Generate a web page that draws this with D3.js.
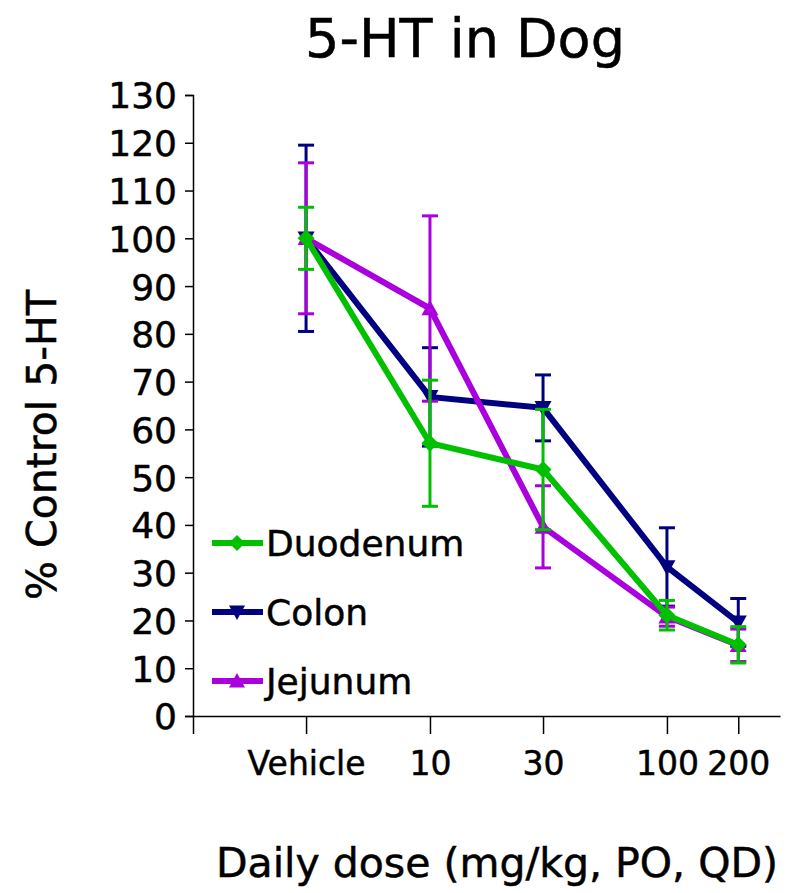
<!DOCTYPE html>
<html>
<head>
<meta charset="utf-8">
<script src="https://cdn.jsdelivr.net/npm/d3@7"></script>
<style>
  body { margin: 0; background: #fff; }
  text { font-family: "DejaVu Sans", sans-serif; fill: #000; stroke: #000; stroke-width: 0.5px; }
</style>
</head>
<body>
<div id="chart"></div>
<script>
// data
const doses = [3, 10, 30, 100, 200];
const doseLabels = ["Vehicle", "10", "30", "100", "200"];
const yTicks = [0, 10, 20, 30, 40, 50, 60, 70, 80, 90, 100, 110, 120, 130];

const duodenum = [100, 57.1, 51.6, 21.1, 14.9];
const duodenumErr = [6.5, 13.2, 12.6, 3.1, 3.8];
const colon = [100, 66.8, 64.5, 31.2, 19.6];
const colonErr = [19.5, 10.3, 6.9, 8.2, 5.0];
const jejunum = [100, 85.3, 39.6, 20.8, 14.8];
const jejunumErr = [15.8, 19.4, 8.6, 2.0, 3.4];

const series = [
  { name: "Colon", values: colon, err: colonErr, color: "#000080", symbol: "down" },
  { name: "Jejunum", values: jejunum, err: jejunumErr, color: "#aa00dd", symbol: "up" },
  { name: "Duodenum", values: duodenum, err: duodenumErr, color: "#00c000", symbol: "diamond" }
];

const W = 799, H = 893;
const svg = d3.select("#chart").append("svg")
  .attr("width", W).attr("height", H);

const x = d3.scaleLog().domain([1, 300]).range([193, 780]);
const y = d3.scaleLinear().domain([0, 130]).range([716, 95]);

// title
svg.append("text")
  .attr("x", 465).attr("y", 57)
  .attr("text-anchor", "middle")
  .style("font-size", "54px")
  .text("5-HT in Dog");

// y axis
const yAxis = d3.axisLeft(y).tickValues(yTicks).tickSize(8).tickPadding(8);
const gy = svg.append("g").attr("transform", "translate(193,0)").call(yAxis);
gy.selectAll("text").style("font-size", "36px").attr("dy", "0.36em");
gy.selectAll("line, path").attr("stroke", "#000").attr("stroke-width", 1.5);

// x axis
const xAxis = d3.axisBottom(x)
  .tickValues([1].concat(doses))
  .tickFormat(d => { const i = doses.indexOf(d); return i < 0 ? "" : doseLabels[i]; })
  .tickSize(18).tickSizeOuter(0).tickPadding(18);
const gx = svg.append("g").attr("transform", "translate(0,716)").call(xAxis);
gx.selectAll("text").style("font-size", "33px");
gx.selectAll("line, path").attr("stroke", "#000").attr("stroke-width", 1.5);

// axis titles
svg.append("text")
  .attr("x", 497).attr("y", 877)
  .attr("text-anchor", "middle")
  .style("font-size", "41px")
  .text("Daily dose (mg/kg, PO, QD)");

svg.append("text")
  .attr("transform", "translate(56,445) rotate(-90)")
  .attr("text-anchor", "middle")
  .style("font-size", "41px")
  .text("% Control 5-HT");

function symbolPath(kind, s) {
  if (kind === "diamond") return `M0,${-s}L${s},0L0,${s}L${-s},0Z`;
  if (kind === "down") return `M${-s},${-s * 0.8}L${s},${-s * 0.8}L0,${s}Z`;
  return `M${-s},${s * 0.8}L${s},${s * 0.8}L0,${-s}Z`;
}

const line = d3.line().x(d => x(d.dose)).y(d => y(d.v));

series.forEach(s => {
  const pts = doses.map((d, i) => ({ dose: d, v: s.values[i], e: s.err[i] }));
  const g = svg.append("g");
  // error bars
  pts.forEach(p => {
    const cx = x(p.dose);
    g.append("line").attr("x1", cx).attr("x2", cx)
      .attr("y1", y(p.v + p.e)).attr("y2", y(p.v - p.e))
      .attr("stroke", s.color).attr("stroke-width", 3);
    [p.v + p.e, p.v - p.e].forEach(v => {
      g.append("line").attr("x1", cx - 8).attr("x2", cx + 8)
        .attr("y1", y(v)).attr("y2", y(v))
        .attr("stroke", s.color).attr("stroke-width", 3);
    });
  });
  g.append("path").datum(pts).attr("d", line)
    .attr("fill", "none").attr("stroke", s.color).attr("stroke-width", 6);
  g.selectAll(".m").data(pts).enter().append("path")
    .attr("transform", p => `translate(${x(p.dose)},${y(p.v)})`)
    .attr("d", symbolPath(s.symbol, 8.5))
    .attr("fill", s.color);
});

// legend
const legendOrder = ["Duodenum", "Colon", "Jejunum"];
legendOrder.forEach((name, i) => {
  const s = series.find(d => d.name === name);
  const ly = 543 + i * 69;
  const g = svg.append("g").attr("transform", `translate(0,${ly})`);
  g.append("line").attr("x1", 212).attr("x2", 263).attr("y1", 0).attr("y2", 0)
    .attr("stroke", s.color).attr("stroke-width", 6);
  g.append("path").attr("transform", "translate(237,0)")
    .attr("d", symbolPath(s.symbol, 8)).attr("fill", s.color);
  g.append("text").attr("x", 266).attr("y", 0).attr("dy", "0.36em")
    .style("font-size", "36px").text(name);
});
</script>
</body>
</html>
